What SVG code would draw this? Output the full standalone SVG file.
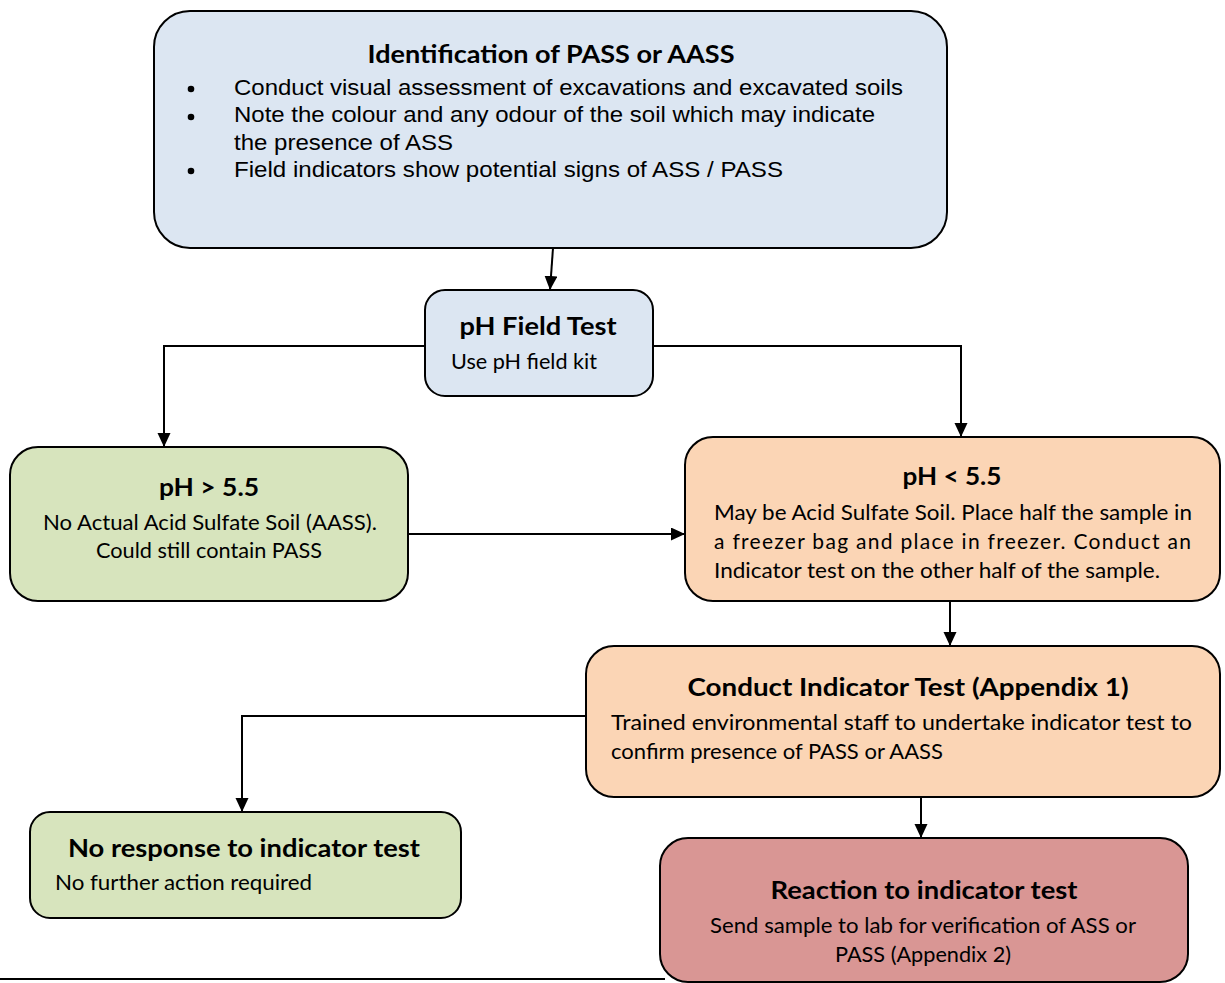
<svg xmlns="http://www.w3.org/2000/svg" width="1225" height="983" viewBox="0 0 1225 983">
<style>
.box{stroke:#000;stroke-width:2}
.blue{fill:#dce6f2}
.green{fill:#d7e4bd}
.orange{fill:#fbd5b5}
.red{fill:#d99694}
.t{font-family:Lato,"Noto Sans",sans-serif;font-weight:bold;font-size:25px;fill:#000}
.b{font-family:Lato,"Noto Sans",sans-serif;font-size:21px;fill:#000}
.a{font-family:"Liberation Sans",Arial,sans-serif;font-size:22px;fill:#000}
.c{text-anchor:middle}
.conn{fill:none;stroke:#000;stroke-width:2}
</style>
<defs>
<marker id="arr" markerUnits="userSpaceOnUse" markerWidth="14" markerHeight="14" refX="14" refY="6.5" orient="auto">
<path d="M0,0 L14,6.5 L0,13 z" fill="#000"/>
</marker>
</defs>
<rect width="1225" height="983" fill="#fff"/>
<g id="connectors">
<line class="conn" x1="0" y1="979" x2="665" y2="979"/>
<line class="conn" x1="553" y1="248" x2="550" y2="290" marker-end="url(#arr)"/>
<polyline class="conn" points="425,346 164,346 164,447" marker-end="url(#arr)"/>
<polyline class="conn" points="653,346 961,346 961,437" marker-end="url(#arr)"/>
<line class="conn" x1="409" y1="534" x2="685" y2="534" marker-end="url(#arr)"/>
<line class="conn" x1="950" y1="601" x2="950" y2="646" marker-end="url(#arr)"/>
<polyline class="conn" points="586,716 242,716 242,812" marker-end="url(#arr)"/>
<line class="conn" x1="921" y1="797" x2="921" y2="838" marker-end="url(#arr)"/>
</g>
<g id="identification">
<rect class="box blue" x="154" y="11" width="793" height="237" rx="36"/>
<text class="t c" x="551" y="63" textLength="367" lengthAdjust="spacingAndGlyphs">Identification of PASS or AASS</text>
<circle cx="191" cy="89" r="3.3"/>
<circle cx="191" cy="117" r="3.3"/>
<circle cx="191" cy="171" r="3.3"/>
<text class="a" x="234" y="95" textLength="669" lengthAdjust="spacingAndGlyphs">Conduct visual assessment of excavations and excavated soils</text>
<text class="a" x="234" y="122" textLength="641" lengthAdjust="spacingAndGlyphs">Note the colour and any odour of the soil which may indicate</text>
<text class="a" x="234" y="150" textLength="219" lengthAdjust="spacingAndGlyphs">the presence of ASS</text>
<text class="a" x="234" y="177" textLength="549" lengthAdjust="spacingAndGlyphs">Field indicators show potential signs of ASS / PASS</text>
</g>
<g id="ph-field-test">
<rect class="box blue" x="425" y="290" width="228" height="106" rx="20"/>
<text class="t c" x="538" y="335" textLength="157" lengthAdjust="spacingAndGlyphs">pH Field Test</text>
<text class="b" x="451" y="369" textLength="146" lengthAdjust="spacingAndGlyphs">Use pH field kit</text>
</g>
<g id="ph-high">
<rect class="box green" x="10" y="447" width="398" height="154" rx="28"/>
<text class="t c" x="209" y="496" textLength="100" lengthAdjust="spacingAndGlyphs">pH &gt; 5.5</text>
<text class="b c" x="210" y="530" textLength="334" lengthAdjust="spacingAndGlyphs">No Actual Acid Sulfate Soil (AASS).</text>
<text class="b c" x="209" y="558" textLength="226" lengthAdjust="spacingAndGlyphs">Could still contain PASS</text>
</g>
<g id="ph-low">
<rect class="box orange" x="685" y="437" width="535" height="164" rx="28"/>
<text class="t c" x="952" y="485" textLength="99" lengthAdjust="spacingAndGlyphs">pH &lt; 5.5</text>
<text class="b" x="714" y="520" textLength="478" lengthAdjust="spacingAndGlyphs">May be Acid Sulfate Soil. Place half the sample in</text>
<text class="b" x="714" y="549" textLength="477" lengthAdjust="spacing">a freezer bag and place in freezer. Conduct an</text>
<text class="b" x="714" y="578" textLength="446" lengthAdjust="spacingAndGlyphs">Indicator test on the other half of the sample.</text>
</g>
<g id="indicator-test">
<rect class="box orange" x="586" y="646" width="634" height="151" rx="28"/>
<text class="t c" x="908" y="696" textLength="441" lengthAdjust="spacingAndGlyphs">Conduct Indicator Test (Appendix 1)</text>
<text class="b" x="611" y="730" textLength="581" lengthAdjust="spacingAndGlyphs">Trained environmental staff to undertake indicator test to</text>
<text class="b" x="611" y="759" textLength="332" lengthAdjust="spacingAndGlyphs">confirm presence of PASS or AASS</text>
</g>
<g id="no-response">
<rect class="box green" x="30" y="812" width="431" height="106" rx="20"/>
<text class="t c" x="244" y="857" textLength="352" lengthAdjust="spacingAndGlyphs">No response to indicator test</text>
<text class="b" x="55" y="890" textLength="257" lengthAdjust="spacingAndGlyphs">No further action required</text>
</g>
<g id="reaction">
<rect class="box red" x="660" y="838" width="528" height="144" rx="28"/>
<text class="t c" x="924" y="899" textLength="307" lengthAdjust="spacingAndGlyphs">Reaction to indicator test</text>
<text class="b c" x="923" y="933" textLength="426" lengthAdjust="spacingAndGlyphs">Send sample to lab for verification of ASS or</text>
<text class="b c" x="923" y="962" textLength="176" lengthAdjust="spacingAndGlyphs">PASS (Appendix 2)</text>
</g>
</svg>
